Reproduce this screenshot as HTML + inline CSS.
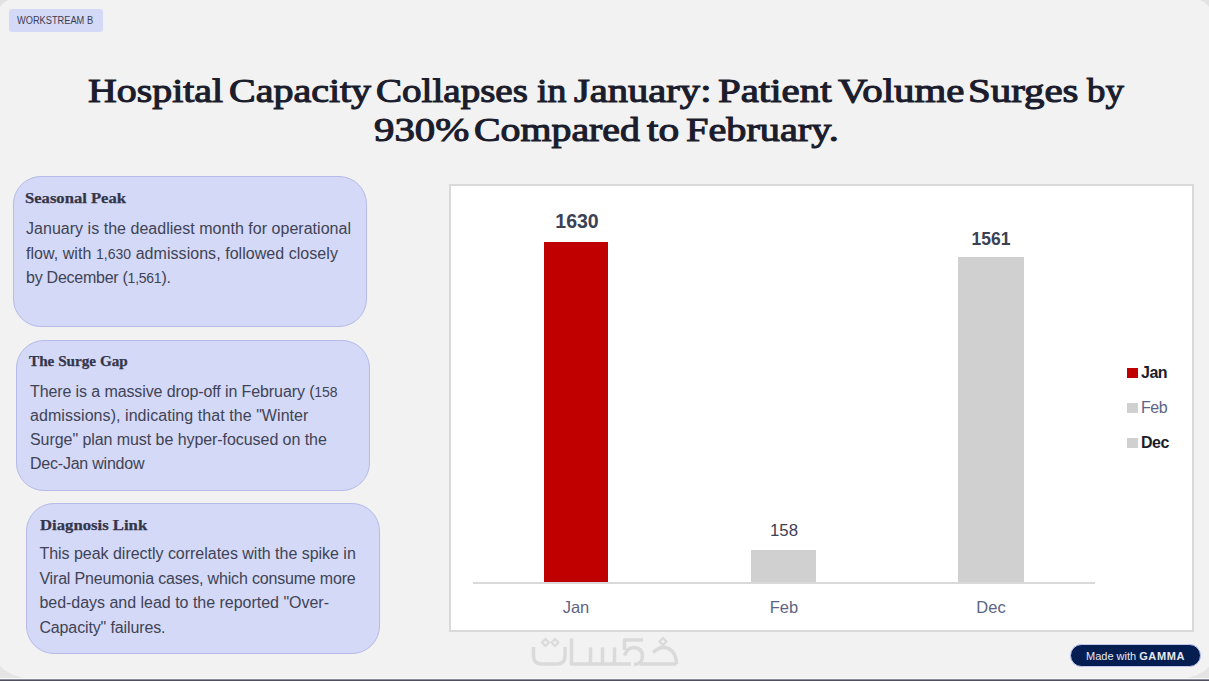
<!DOCTYPE html>
<html><head><meta charset="utf-8">
<style>
*{margin:0;padding:0;box-sizing:border-box}
html,body{width:1209px;height:681px;overflow:hidden;background:#f2f2f2}
body{position:relative;font-family:"Liberation Sans",sans-serif}
.abs{position:absolute}
#badge{left:9px;top:9px;width:94px;height:23px;background:#d4d9f7;border-radius:3px;font-size:10px;color:#3b3d4f;line-height:23.5px;padding-left:7.5px;white-space:nowrap}
#title{left:0;top:0;width:1209px;height:160px;font-family:"Liberation Serif",serif;font-weight:normal;font-size:34.5px;line-height:39px;color:#1b1c2c;-webkit-text-stroke:1.1px #1b1c2c;white-space:nowrap}
.tw{position:absolute;transform-origin:0 0}
.card{position:absolute;background:#d4d9f7;border:1px solid #b5bae6;border-radius:28px}
.ct{position:absolute;font-family:"Liberation Serif",serif;font-weight:bold;font-size:15.5px;line-height:20px;color:#35364a;-webkit-text-stroke:0.25px #35364a;white-space:nowrap}
.os{font-size:14px}
.cb{position:absolute;font-size:16px;line-height:20px;color:#404355;white-space:nowrap}
#chart{left:449px;top:184px;width:745px;height:448px;background:#fff;border:2px solid #d9d9d9}
.bar{position:absolute}
.lbl{position:absolute;text-align:center;width:100px;white-space:nowrap;line-height:20px}
.lg{position:absolute;white-space:nowrap;line-height:20px}
</style></head><body>
<svg class="abs" style="left:0;top:0" width="1209" height="681" viewBox="0 0 1209 681">
<path d="M0 0 H9 Q3 2 0 7 Z" fill="#e2e2e2"/>
<path d="M1209 0 H1200 Q1206 2 1209 7 Z" fill="#e2e2e2"/>
<path d="M0 666 Q8 675 27 679 H0 Z" fill="#e4e4e4"/>
<path d="M1209 667 Q1200 676 1183 679 H1209 Z" fill="#e4e4e4"/>
</svg>
<div id="badge" class="abs"><span style="display:inline-block;transform:scaleX(0.925);transform-origin:0 0">WORKSTREAM B</span></div>
<div id="title" class="abs"><span class="tw" style="left:88.00px;top:71.30px;transform:scaleX(1.1556)">Hospital</span><span class="tw" style="left:228.64px;top:71.30px;transform:scaleX(1.1590)">Capacity</span><span class="tw" style="left:376.07px;top:71.30px;transform:scaleX(1.1323)">Collapses</span><span class="tw" style="left:537.30px;top:71.30px;transform:scaleX(1.0963)">in</span><span class="tw" style="left:574.10px;top:71.30px;transform:scaleX(1.1757)">January:</span><span class="tw" style="left:718.00px;top:71.30px;transform:scaleX(1.1844)">Patient</span><span class="tw" style="left:838.40px;top:71.30px;transform:scaleX(1.1849)">Volume</span><span class="tw" style="left:968.33px;top:71.30px;transform:scaleX(1.1846)">Surges</span><span class="tw" style="left:1086.57px;top:71.30px;transform:scaleX(1.0667)">by</span><span class="tw" style="left:373.70px;top:110.40px;transform:scaleX(1.1837)">930%</span><span class="tw" style="left:474.45px;top:110.40px;transform:scaleX(1.1545)">Compared</span><span class="tw" style="left:646.90px;top:110.40px;transform:scaleX(1.2000)">to</span><span class="tw" style="left:685.50px;top:110.40px;transform:scaleX(1.1674)">February.</span></div>

<div class="card" style="left:13px;top:176px;width:354px;height:151px"></div>
<div class="ct" style="left:24.93px;top:187.87px;transform:scaleX(1.0713);transform-origin:0 0">Seasonal Peak</div>
<div class="cb" id="l0_0" style="left:26px;top:219.11px;letter-spacing:0.028px">January is the deadliest month for operational</div>
<div class="cb" id="l0_1" style="left:26px;top:243.61px;letter-spacing:0.047px">flow, with <span class="os">1,630</span> admissions, followed closely</div>
<div class="cb" id="l0_2" style="left:26px;top:268.11px;letter-spacing:-0.255px">by December (<span class="os">1,561</span>).</div>
<div class="card" style="left:16px;top:340px;width:354px;height:151px"></div>
<div class="ct" style="left:29.20px;top:351.47px;transform:scaleX(0.9802);transform-origin:0 0">The Surge Gap</div>
<div class="cb" id="l1_0" style="left:30px;top:381.71px;letter-spacing:-0.106px">There is a massive drop-off in February (<span class="os">158</span></div>
<div class="cb" id="l1_1" style="left:30px;top:405.71px;letter-spacing:0.061px">admissions), indicating that the &quot;Winter</div>
<div class="cb" id="l1_2" style="left:30px;top:430.11px;letter-spacing:-0.062px">Surge&quot; plan must be hyper-focused on the</div>
<div class="cb" id="l1_3" style="left:30px;top:454.31px;letter-spacing:-0.222px">Dec-Jan window</div>
<div class="card" style="left:26px;top:503px;width:354px;height:151px"></div>
<div class="ct" style="left:39.50px;top:514.87px;transform:scaleX(1.0770);transform-origin:0 0">Diagnosis Link</div>
<div class="cb" id="l2_0" style="left:39.4px;top:544.41px;letter-spacing:-0.023px">This peak directly correlates with the spike in</div>
<div class="cb" id="l2_1" style="left:39.4px;top:568.81px;letter-spacing:-0.176px">Viral Pneumonia cases, which consume more</div>
<div class="cb" id="l2_2" style="left:39.4px;top:593.41px;letter-spacing:-0.018px">bed-days and lead to the reported &quot;Over-</div>
<div class="cb" id="l2_3" style="left:39.4px;top:617.81px;letter-spacing:-0.128px">Capacity&quot; failures.</div>

<div id="chart" class="abs"></div>
<div class="bar" style="left:544px;top:242px;width:64px;height:340px;background:#c00000"></div>
<div class="bar" style="left:751px;top:550px;width:65px;height:32px;background:#d0d0d0"></div>
<div class="bar" style="left:958px;top:257px;width:66px;height:325px;background:#d0d0d0"></div>
<div class="bar" style="left:473px;top:582px;width:622px;height:2px;background:#d9d9d9"></div>

<div class="lbl" style="left:527px;top:211px;font-size:19.5px;font-weight:bold;color:#3c4154">1630</div>
<div class="lbl" style="left:734px;top:521px;font-size:16.8px;color:#3c4154">158</div>
<div class="lbl" style="left:941px;top:228.5px;font-size:17.5px;font-weight:bold;color:#3c4154">1561</div>

<div class="lbl" style="left:526px;top:597px;font-size:16.5px;color:#5d6483">Jan</div>
<div class="lbl" style="left:734px;top:597px;font-size:16.5px;color:#5d6483">Feb</div>
<div class="lbl" style="left:941px;top:597px;font-size:16.5px;color:#5d6483">Dec</div>

<div class="bar" style="left:1127px;top:368px;width:11px;height:10px;background:#c00000"></div>
<div class="bar" style="left:1127px;top:403px;width:11px;height:10px;background:#d0d0d0"></div>
<div class="bar" style="left:1127px;top:438px;width:11px;height:10px;background:#d0d0d0"></div>
<div class="lg" style="left:1141px;top:362.5px;font-size:16px;letter-spacing:-0.5px;font-weight:bold;color:#1c1d2b">Jan</div>
<div class="lg" style="left:1141px;top:397.5px;font-size:16px;letter-spacing:-0.5px;color:#5d6483">Feb</div>
<div class="lg" style="left:1141px;top:432.5px;font-size:16px;letter-spacing:-0.5px;font-weight:bold;color:#1c1d2b">Dec</div>

<svg class="abs" style="left:0;top:0" width="1209" height="681" viewBox="0 0 1209 681" fill="none" stroke="#dadada" stroke-width="3.5" stroke-linejoin="round">
<path d="M533.5 647 V656 Q533.5 664 542 664 H557 Q565 664 565 656 V647"/>
<path d="M571.5 638.5 V664 H631"/>
<path d="M590.5 647.5 V664 M602.5 647.5 V664 M614.5 647.5 V664"/>
<path d="M643 640 H624.5 V650"/>
<path d="M624.5 655.5 Q627 648 633.5 647.5 Q642.5 648 642.5 656 Q642.5 664 634 664.5"/>
<path d="M640 664 H676.5"/>
<path d="M653 652.5 Q663 643 672 651 Q676.5 656 676.5 664"/>
<path d="M545.5 639 L549 642.5 L545.5 646 L542 642.5 Z M555 639 L558.5 642.5 L555 646 L551.5 642.5 Z M663 638 L666.5 641.5 L663 645 L659.5 641.5 Z" stroke-width="2.4"/>
</svg>

<div class="abs" style="left:1070px;top:644px;width:131px;height:23px;background:#041e52;border:1px solid #c3c8f2;border-radius:12px;color:#e8e8ee;font-size:11px;line-height:23px;padding-left:15px;white-space:nowrap">Made with <b style="font-weight:bold;letter-spacing:0.6px">GAMMA</b></div>

<div class="abs" style="left:0;top:678px;width:1209px;height:1px;background:#f9f9f7"></div><div class="abs" style="left:0;top:679px;width:1209px;height:1px;background:#8b8d9b"></div><div class="abs" style="left:0;top:680px;width:1209px;height:1px;background:#4f4f5d"></div>
</body></html>
